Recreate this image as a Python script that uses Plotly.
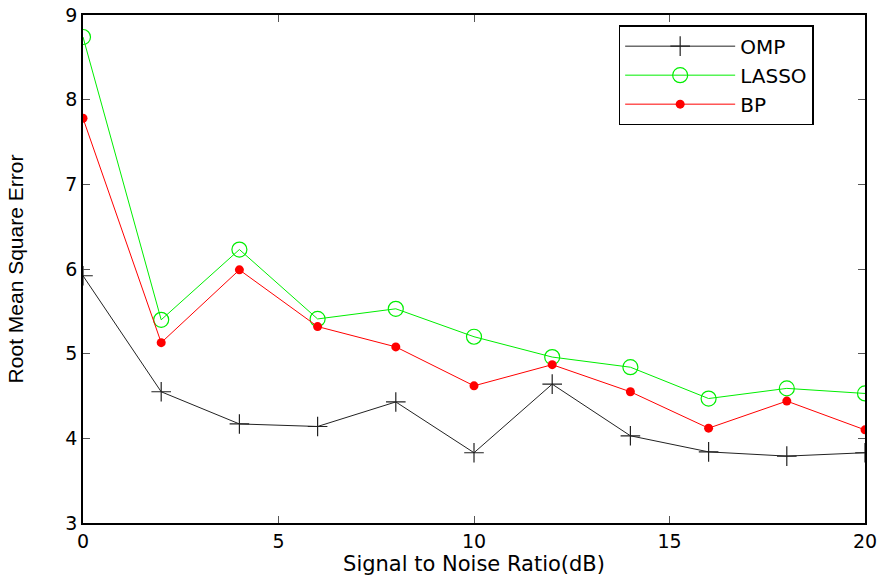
import plotly.graph_objects as go

snr = [0, 2, 4, 6, 8, 10, 12, 14, 16, 18, 20]
omp = [5.92, 4.55, 4.17, 4.14, 4.43, 3.83, 4.64, 4.03, 3.84, 3.79, 3.83]
lasso = [8.74, 5.40, 6.23, 5.41, 5.53, 5.20, 4.96, 4.84, 4.47, 4.59, 4.53]
bp = [7.78, 5.13, 5.99, 5.32, 5.08, 4.62, 4.87, 4.55, 4.12, 4.44, 4.10]

FONT = "DejaVu Sans, Liberation Sans, Arial"

fig = go.Figure()
fig.add_trace(go.Scatter(x=snr, y=omp, name="OMP", mode="lines+markers",
                         line=dict(color="#222222", width=1),
                         marker=dict(symbol="cross-thin", size=14, line=dict(color="#222222", width=1.2))))
fig.add_trace(go.Scatter(x=snr, y=lasso, name="LASSO", mode="lines+markers",
                         line=dict(color="#00ee00", width=1),
                         marker=dict(symbol="circle-open", size=15, color="#00ee00", line=dict(width=1.2))))
fig.add_trace(go.Scatter(x=snr, y=bp, name="BP", mode="lines+markers",
                         line=dict(color="#ff0000", width=1),
                         marker=dict(symbol="circle", size=9, color="#ff0000")))

axis_common = dict(showgrid=False, zeroline=False, showline=True, linecolor="black", linewidth=1.5,
                   mirror="ticks", ticks="inside", ticklen=7, tickcolor="#555555", automargin=False,
                   tickfont=dict(family=FONT, size=19, color="black"))
fig.update_xaxes(range=[0, 20], tickvals=[0, 5, 10, 15, 20], **axis_common,
                 title=dict(text="Signal to Noise Ratio(dB)", standoff=0,
                            font=dict(family=FONT, size=21, color="black")))
fig.update_yaxes(range=[3, 9], tickvals=[3, 4, 5, 6, 7, 8, 9], **axis_common,
                 title=dict(text="Root Mean Square Error", standoff=36,
                            font=dict(family="Liberation Sans, Arial", size=21, color="black")))

fig.update_layout(width=883, height=577, plot_bgcolor="white", paper_bgcolor="white",
                  margin=dict(l=83, r=18, t=15, b=54, autoexpand=False),
                  legend=dict(x=0.685, y=0.98, xanchor="left", yanchor="top",
                              bordercolor="black", borderwidth=1.5, bgcolor="white",
                              font=dict(family=FONT, size=20, color="black"),
                              itemwidth=110, tracegroupgap=0),
                  showlegend=True)
fig.write_html("out.html", config={"displayModeBar": False},
               post_script="document.body.style.margin='0';document.body.style.padding='0';")
